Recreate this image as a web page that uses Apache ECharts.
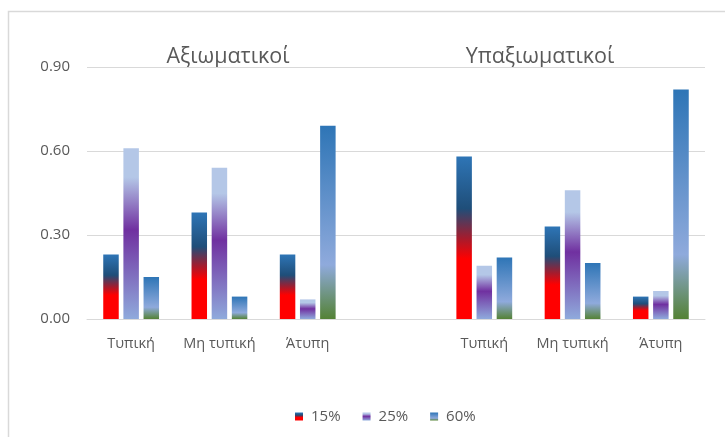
<!DOCTYPE html>
<html>
<head>
<meta charset="utf-8">
<script src="https://cdn.jsdelivr.net/npm/echarts@6/dist/echarts.min.js"></script>
<style>
  html, body { margin: 0; padding: 0; background: #fff; }
  #chart { width: 725px; height: 437px; }
</style>
</head>
<body>
<div id="chart"></div>
<script>
// Group headings drawn above each block of categories
const groups = ['Αξιωματικοί', 'Υπαξιωματικοί'];
// The empty slot in the middle separates the two groups
const categories = ['Τυπική', 'Μη τυπική', 'Άτυπη', '', 'Τυπική', 'Μη τυπική', 'Άτυπη'];
const seriesNames = ['15%', '25%', '60%'];
const series15 = [0.23, 0.38, 0.23, null, 0.58, 0.33, 0.08];
const series25 = [0.61, 0.54, 0.07, null, 0.19, 0.46, 0.10];
const series60 = [0.15, 0.08, 0.69, null, 0.22, 0.20, 0.82];
const yTicks = { min: 0, max: 0.9, interval: 0.3 };

const FONT = 'Open Sans';
const TEXT = '#595959';
const LINE = '#d9d9d9';

function grad(stops) {
  return new echarts.graphic.LinearGradient(0, 0, 0, 1,
    stops.map(([offset, color]) => ({ offset, color })));
}

const fills = [
  grad([[0, '#2E75B6'], [0.32, '#1F4E79'], [0.5, '#A31C2E'], [0.63, '#FF0000'], [1, '#FF0000']]),
  grad([[0, '#B4C7E7'], [0.17, '#B4C7E7'], [0.48, '#7030A0'], [1, '#8FAADC']]),
  grad([[0, '#2E75B6'], [0.72, '#8FAADC'], [1, '#548235']])
];

const chart = echarts.init(document.getElementById('chart'), null, { renderer: 'canvas' });

const valueLists = [series15, series25, series60];

chart.setOption({
  animation: false,
  backgroundColor: '#fff',
  textStyle: { fontFamily: FONT },
  grid: { left: 87, right: 20, top: 67, bottom: 118, containLabel: false },
  legend: {
    top: 404,
    left: 290,
    itemWidth: 8,
    itemHeight: 8,
    itemGap: 22,
    icon: 'rect',
    textStyle: { color: TEXT, fontSize: 15, fontFamily: FONT, padding: [0, 0, 0, 3] },
    data: seriesNames
  },
  xAxis: {
    type: 'category',
    data: categories,
    axisLine: { show: true, lineStyle: { color: LINE, width: 1 } },
    axisTick: { show: false },
    axisLabel: { color: TEXT, fontSize: 14.5, fontFamily: FONT, margin: 17, interval: 0 }
  },
  yAxis: {
    type: 'value',
    min: yTicks.min,
    max: yTicks.max,
    interval: yTicks.interval,
    axisLine: { show: false },
    axisTick: { show: false },
    splitLine: { lineStyle: { color: LINE, width: 1 } },
    axisLabel: {
      color: TEXT, fontSize: 15, fontFamily: FONT, margin: 17,
      formatter: v => v.toFixed(2)
    }
  },
  series: seriesNames.map((name, i) => ({
    name,
    type: 'bar',
    data: valueLists[i],
    barWidth: 15.5,
    barGap: '30%',
    itemStyle: { color: fills[i] }
  })),
  graphic: [
    {
      type: 'rect',
      shape: { x: 8.5, y: 11.5, width: 900, height: 600 },
      style: { fill: 'none', stroke: LINE, lineWidth: 1.5 },
      silent: true
    },
    {
      type: 'text', x: 228, y: 57,
      style: { text: groups[0], fill: TEXT, fontSize: 21.5, fontFamily: FONT, align: 'center', verticalAlign: 'middle' }
    },
    {
      type: 'text', x: 540, y: 57,
      style: { text: groups[1], fill: TEXT, fontSize: 21.5, fontFamily: FONT, align: 'center', verticalAlign: 'middle' }
    }
  ]
});
</script>
</body>
</html>
